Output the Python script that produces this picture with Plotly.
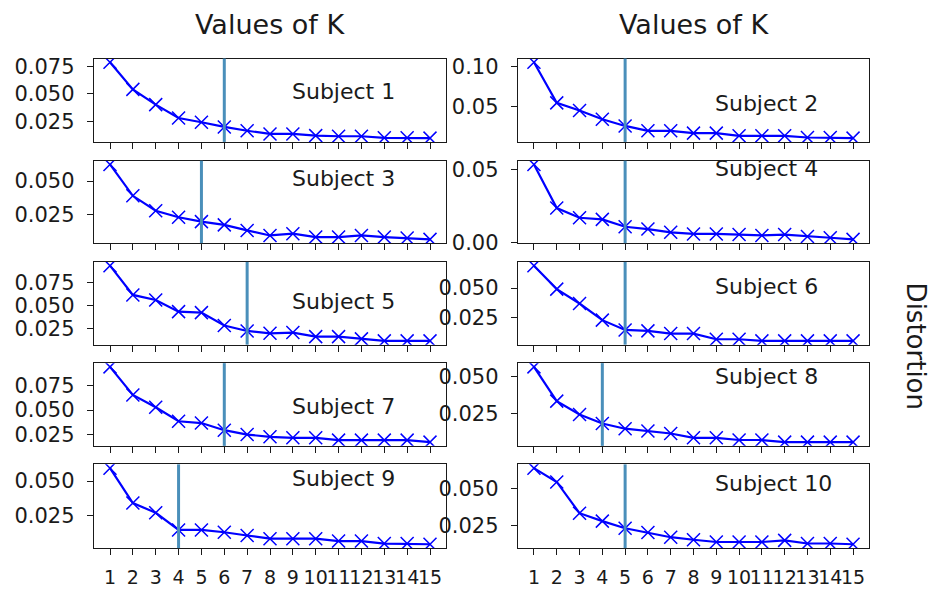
import plotly.graph_objects as go
from plotly.subplots import make_subplots

# Number of clusters tried for every subject
k_values = list(range(1, 16))

subject_names = [f"Subject {i}" for i in range(1, 11)]

# Distortion (elbow curve) per subject, K = 1..15
distortion_s1 = [0.0787, 0.0540, 0.0401, 0.0279, 0.0241, 0.0198, 0.0163, 0.0134,
                 0.0134, 0.0119, 0.0113, 0.0113, 0.0099, 0.0099, 0.0096]
distortion_s2 = [0.1054, 0.0541, 0.0446, 0.0334, 0.0250, 0.0188, 0.0188, 0.0159,
                 0.0159, 0.0125, 0.0125, 0.0125, 0.0104, 0.0104, 0.0096]
distortion_s3 = [0.0622, 0.0391, 0.0281, 0.0233, 0.0201, 0.0177, 0.0136, 0.0099,
                 0.0112, 0.0087, 0.0087, 0.0099, 0.0087, 0.0080, 0.0070]
distortion_s4 = [0.0533, 0.0237, 0.0171, 0.0160, 0.0110, 0.0094, 0.0072, 0.0061,
                 0.0061, 0.0057, 0.0051, 0.0057, 0.0044, 0.0035, 0.0024]
distortion_s5 = [0.0937, 0.0616, 0.0561, 0.0433, 0.0422, 0.0280, 0.0221, 0.0195,
                 0.0203, 0.0159, 0.0159, 0.0134, 0.0112, 0.0112, 0.0112]
distortion_s6 = [0.0690, 0.0491, 0.0369, 0.0228, 0.0145, 0.0137, 0.0114, 0.0114,
                 0.0066, 0.0066, 0.0052, 0.0052, 0.0052, 0.0052, 0.0052]
distortion_s7 = [0.0942, 0.0655, 0.0530, 0.0386, 0.0368, 0.0295, 0.0250, 0.0227,
                 0.0217, 0.0217, 0.0193, 0.0193, 0.0193, 0.0193, 0.0173]
distortion_s8 = [0.0563, 0.0333, 0.0243, 0.0183, 0.0148, 0.0132, 0.0116, 0.0087,
                 0.0087, 0.0072, 0.0072, 0.0058, 0.0058, 0.0058, 0.0058]
distortion_s9 = [0.0593, 0.0343, 0.0273, 0.0150, 0.0150, 0.0133, 0.0110, 0.0087,
                 0.0087, 0.0087, 0.0070, 0.0070, 0.0052, 0.0052, 0.0047]
distortion_s10 = [0.0635, 0.0543, 0.0335, 0.0282, 0.0235, 0.0207, 0.0175, 0.0158,
                  0.0143, 0.0143, 0.0143, 0.0154, 0.0133, 0.0133, 0.0128]

distortions = [distortion_s1, distortion_s2, distortion_s3, distortion_s4, distortion_s5,
               distortion_s6, distortion_s7, distortion_s8, distortion_s9, distortion_s10]

# Selected K (elbow) per subject
best_k = [6, 5, 5, 5, 7, 5, 6, 4, 4, 5]

# y tick spacing and label format per subject
y_dtick = [0.025, 0.05, 0.025, 0.05, 0.025, 0.025, 0.025, 0.025, 0.025, 0.025]
y_format = [".3f", ".2f", ".3f", ".2f", ".3f", ".3f", ".3f", ".3f", ".3f", ".3f"]

# Vertical placement of the subject labels inside each panel (axes fraction)
label_y = [0.61, 0.46, 0.79, 0.91, 0.52, 0.70, 0.48, 0.84, 0.83, 0.77]

W, H = 937, 599
col_px = [(94, 446), (518, 869)]
row_px = [(56, 141.7), (161, 245.7), (265, 350), (369, 454), (473, 559)]

font_family = "DejaVu Sans"
text_color = "#1a1a1a"
line_blue = "#0000ff"
vline_color = "#4a8fba"

fig = make_subplots(rows=5, cols=2)

for i, dist in enumerate(distortions):
    r, c = i // 2 + 1, i % 2 + 1
    fig.add_trace(
        go.Scatter(
            x=k_values, y=dist, mode="lines+markers",
            line=dict(color=line_blue, width=2.2),
            marker=dict(symbol="x-thin", size=13, line=dict(color=line_blue, width=1.5)),
            showlegend=False, hoverinfo="skip",
        ),
        row=r, col=c,
    )

    n = i + 1
    xa = "xaxis" if n == 1 else f"xaxis{n}"
    ya = "yaxis" if n == 1 else f"yaxis{n}"
    xref = "x" if n == 1 else f"x{n}"
    yref = "y" if n == 1 else f"y{n}"

    x0, x1 = col_px[c - 1]
    y0, y1 = row_px[r - 1]

    lo, hi = min(dist), max(dist)
    pad = 0.05 * (hi - lo)

    fig.layout[xa].update(
        domain=[x0 / W, x1 / W],
        range=[0.3, 15.7],
        tickmode="array", tickvals=k_values,
        ticktext=[str(k) for k in k_values],
        showticklabels=(r == 5),
        tickangle=0, ticklabelstandoff=6,
        ticks="outside", ticklen=6, tickwidth=1.3, tickcolor="#1a1a1a",
        showline=True, mirror=True, linecolor="#1a1a1a", linewidth=1.4,
        showgrid=False, zeroline=False,
        tickfont=dict(family=font_family, size=19, color=text_color),
    )
    fig.layout[ya].update(
        domain=[1 - y1 / H, 1 - y0 / H],
        range=[lo - pad, hi + pad],
        tickmode="linear", tick0=0, dtick=y_dtick[i], tickformat=y_format[i],
        ticklabelstandoff=8,
        ticks="outside", ticklen=6, tickwidth=1.3, tickcolor="#1a1a1a",
        showline=True, mirror=True, linecolor="#1a1a1a", linewidth=1.4,
        showgrid=False, zeroline=False,
        tickfont=dict(family=font_family, size=21, color=text_color),
    )

    fig.add_shape(
        type="line", xref=xref, yref=f"{yref} domain",
        x0=best_k[i], x1=best_k[i], y0=0, y1=1,
        line=dict(color=vline_color, width=3), layer="above",
    )

    fig.add_annotation(
        x=9, y=label_y[i], xref=xref, yref=f"{yref} domain",
        text=subject_names[i], showarrow=False,
        xanchor="left", yanchor="middle", xshift=-3,
        font=dict(family=font_family, size=22, color=text_color),
    )

# Column titles
for x0, x1 in col_px:
    fig.add_annotation(
        x=(x0 + x1) / 2 / W, y=1 - 21 / H, xref="paper", yref="paper",
        text="Values of K", showarrow=False, xanchor="center", yanchor="middle",
        font=dict(family=font_family, size=27, color=text_color),
    )

# Shared y label on the right
fig.add_annotation(
    x=916 / W, y=1 - 351 / H, xref="paper", yref="paper",
    text="Distortion", showarrow=False, textangle=90,
    xanchor="center", yanchor="middle",
    font=dict(family=font_family, size=26, color=text_color),
)

fig.update_layout(
    width=W, height=H,
    margin=dict(l=0, r=0, t=0, b=0),
    paper_bgcolor="white", plot_bgcolor="white",
    showlegend=False,
)

fig.write_html("out.html")
